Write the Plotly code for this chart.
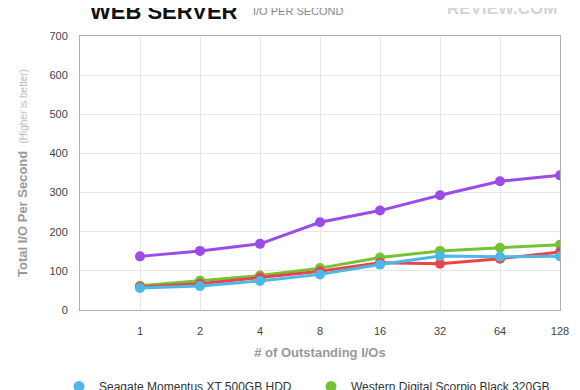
import plotly.graph_objects as go

categories = ["1", "2", "4", "8", "16", "32", "64", "128"]
seagate_xt_500 = [56, 61, 74, 91, 116, 138, 136, 137]
wd_scorpio_black = [62, 75, 88, 107, 134, 151, 159, 167]
red_drive = [59, 67, 83, 99, 121, 118, 131, 148]
purple_drive = [137, 151, 169, 224, 254, 293, 329, 344]

series = [
    ("Seagate Momentus XT 500GB HDD", seagate_xt_500, "#4bb8e8"),
    ("Western Digital Scorpio Black 320GB", wd_scorpio_black, "#76c235"),
    ("Hitachi Travelstar 7K500 500GB", red_drive, "#e8454b"),
    ("Seagate Momentus XT 750GB SSHD", purple_drive, "#9a4be8"),
]

fig = go.Figure()
# draw order: purple, green, red, blue on top
for idx in [3, 1, 2, 0]:
    name, vals, col = series[idx]
    fig.add_trace(go.Scatter(
        x=categories, y=vals, name=name, mode="lines+markers",
        line=dict(color=col, width=3),
        marker=dict(color=col, size=10),
        showlegend=False,
    ))
# legend entries (marker-only symbols)
for idx, (name, vals, col) in enumerate(series):
    fig.add_trace(go.Scatter(
        x=[None], y=[None], name=name, mode="markers",
        marker=dict(color=col, size=11),
        legendrank=idx, showlegend=True,
    ))

# page offset of 8px (body margin): plot area on screen x 80..560, y 36..310
fig.update_layout(
    width=580, height=390,
    margin=dict(l=72, r=28, t=28, b=88, autoexpand=False),
    paper_bgcolor="white", plot_bgcolor="white",
    font=dict(family="Liberation Sans, Arial, sans-serif", color="#444"),
    showlegend=True,
    legend=dict(orientation="h", x=(59 - 80) / 480, xanchor="left",
                y=(310 - 372) / 274, yanchor="top",
                font=dict(size=12, color="#333"), traceorder="normal",
                entrywidth=207, entrywidthmode="pixels"),
    xaxis=dict(
        type="category", range=[-1, 7],
        showgrid=True, gridcolor="#e6e6e6", gridwidth=1,
        showline=True, linecolor="#b0b0b0", linewidth=1, mirror=True,
        ticks="outside", ticklen=11, tickcolor="rgba(0,0,0,0)",
        tickfont=dict(size=11, color="#444"),
        title=dict(text="<b># of Outstanding I/Os</b>", font=dict(size=13, color="#999"), standoff=11),
        zeroline=False, automargin=False,
    ),
    yaxis=dict(
        range=[0, 700], dtick=100,
        showgrid=True, gridcolor="#e6e6e6", gridwidth=1,
        showline=True, linecolor="#b0b0b0", linewidth=1, mirror=True,
        ticks="outside", ticklen=9, tickcolor="rgba(0,0,0,0)",
        tickfont=dict(size=11, color="#444"),
        title=dict(text="<b>Total I/O Per Second</b>  <span style='font-size:10px;color:#bbbbbb'>(Higher is better)</span>",
                   font=dict(size=13, color="#999"), standoff=18),
        zeroline=False, automargin=False,
    ),
)

fig.add_annotation(xref="paper", yref="paper", x=(240 - 80) / 480, y=1 + 10 / 274,
                   xanchor="right", yanchor="bottom", showarrow=False,
                   text="<b>WEB SERVER</b>", font=dict(size=22, color="#111", family="Liberation Sans, Arial"))
fig.add_annotation(xref="paper", yref="paper", x=(251 - 80) / 480, y=1 + 17 / 274,
                   xanchor="left", yanchor="bottom", showarrow=False,
                   text="I/O PER SECOND", font=dict(size=11, color="#888", family="Liberation Sans, Arial"))
fig.add_annotation(xref="paper", yref="paper", x=1.0, y=1 + 16 / 274,
                   xanchor="right", yanchor="bottom", showarrow=False,
                   text="<b>REVIEW.COM</b>", font=dict(size=17, color="#d4d4d4", family="Liberation Sans, Arial"))

fig.write_html("out.html")
